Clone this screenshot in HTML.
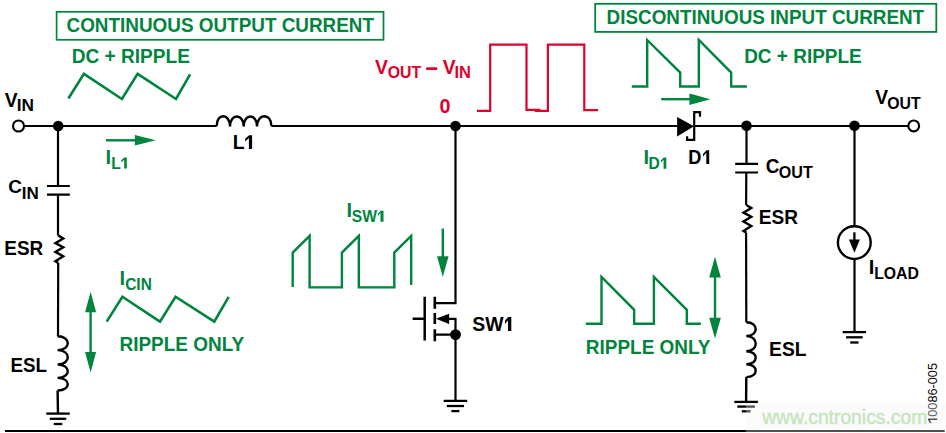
<!DOCTYPE html>
<html><head><meta charset="utf-8"><style>
html,body{margin:0;padding:0;background:#fff;}
svg{display:block;}
text{font-family:"Liberation Sans", sans-serif;}
</style></head><body>
<svg width="946" height="433" viewBox="0 0 946 433">
<rect width="946" height="433" fill="#fff"/>
<rect x="56.6" y="11.8" width="326.9" height="28" fill="none" stroke="#00843e" stroke-width="1.7"/>
<rect x="595.2" y="3.8" width="341.1" height="28.1" fill="none" stroke="#00843e" stroke-width="1.8"/>
<path d="M68.4,98.5 L83.9,73.8 L121.9,99 L137.6,73.8 L176,99 L190.1,74.3" stroke="#00843e" stroke-width="2.6" fill="none" stroke-linejoin="miter"/>
<path d="M106.7,321.6 L122.4,296.7 L160,321.6 L175.5,296.7 L214.3,321.6 L228.7,296.9" stroke="#00843e" stroke-width="2.6" fill="none"/>
<path d="M477,110.8 L490.2,110.8 L490.2,44.6 L526.5,44.6 L526.5,109.9 L540.4,109.9" stroke="#dd012c" stroke-width="2.2" fill="none"/>
<path d="M534.7,110.8 L547.9,110.8 L547.9,44.6 L584.3,44.6 L584.3,110.2 L598.1,110.2" stroke="#dd012c" stroke-width="2.2" fill="none"/>
<path d="M631.8,86.5 L647.2,86.5 L647.2,40 L680.2,72.6 L680.2,86.5 L698.8,86.5 L698.8,40 L731.2,72.6 L731.2,86.5 L746.9,86.5" stroke="#00843e" stroke-width="2.4" fill="none"/>
<path d="M292.7,286.9 L292.7,252.6 L309.6,235.8 L309.6,287.4 L341.9,287.4 L341.9,252.6 L358.8,235.8 L358.8,287.4 L394.3,287.4 L394.3,252.6 L411.2,235.8 L411.2,285.1" stroke="#00843e" stroke-width="2.4" fill="none"/>
<path d="M585.8,323.7 L601.5,323.7 L601.5,276.8 L634.2,309.8 L634.2,323.7 L653.9,323.7 L653.9,276.8 L686.8,309.8 L686.8,323.7 L700.9,323.7" stroke="#00843e" stroke-width="2.4" fill="none"/>
<path d="M106,140.3 L135.9,140.3" stroke="#00843e" stroke-width="2.4" fill="none"/>
<path d="M155.6,140.3 L134.9,135.0 L134.9,145.60000000000002 Z" fill="#00843e"/>
<path d="M661.2,99.2 L690.4,99.2" stroke="#00843e" stroke-width="2.4" fill="none"/>
<path d="M710.4,99.2 L689.4,93.4 L689.4,105.0 Z" fill="#00843e"/>
<path d="M442.8,228.5 L442.8,257.2" stroke="#00843e" stroke-width="2.4" fill="none"/>
<path d="M442.8,277 L437.05,256.2 L448.55,256.2 Z" fill="#00843e"/>
<path d="M90.6,311.3 L90.6,353.0" stroke="#00843e" stroke-width="2.4" fill="none"/>
<path d="M90.6,291.8 L85.1,312.3 L96.1,312.3 Z" fill="#00843e"/>
<path d="M90.6,372.5 L85.1,352.0 L96.1,352.0 Z" fill="#00843e"/>
<path d="M715,276.40000000000003 L715,318.79999999999995" stroke="#00843e" stroke-width="2.4" fill="none"/>
<path d="M715,256.8 L709.15,277.40000000000003 L720.85,277.40000000000003 Z" fill="#00843e"/>
<path d="M715,338.4 L709.15,317.79999999999995 L720.85,317.79999999999995 Z" fill="#00843e"/>
<path d="M23.6,126 L216.7,126" stroke="#000" stroke-width="2.2" fill="none"/>
<path d="M216.7,126 C216.70,112.67 230.00,113.17 230.00,126.5 C230.00,113.17 243.70,113.17 243.70,126.5 C243.70,113.17 257.00,113.17 257.00,126.5 C257.00,113.17 271.40,112.67 271.40,126" stroke="#000" stroke-width="2.4" fill="none"/>
<path d="M271.4,126 L680,126" stroke="#000" stroke-width="2.2" fill="none"/>
<path d="M694,126 L908.1,126" stroke="#000" stroke-width="2.2" fill="none"/>
<circle cx="18.5" cy="126" r="5.5" fill="#fff" stroke="#000" stroke-width="2.1"/>
<circle cx="913.7" cy="125.9" r="5.4" fill="#fff" stroke="#000" stroke-width="2.2"/>
<path d="M677.1,117 L677.1,136.4 L694,126.2 Z" fill="#000"/>
<path d="M700,116.8 L700,112.2 L694.2,112.2 L694.2,139.9 L687.1,139.9 L687.1,136.3" stroke="#000" stroke-width="2.2" fill="none"/>
<path d="M58,126 L58,186 M47,186 L69.8,186 M47,194.7 L69.8,194.7 M58,194.7 L58,235.4" stroke="#000" stroke-width="2.2" fill="none"/>
<path d="M58.20,235.40 L63.20,238.43 L55.40,243.10 L63.20,247.22 L55.40,251.90 L63.20,256.30 L55.40,261.25 L58.20,262.90" stroke="#000" stroke-width="2.4" fill="none" stroke-linejoin="miter"/>
<path d="M58.2,262.9 L58,336.3" stroke="#000" stroke-width="2.2" fill="none"/>
<path d="M57.6,336.3 C71.20,336.30 71.20,350.10 57.6,350.10 C71.20,350.10 71.20,364.50 57.6,364.50 C71.20,364.50 71.20,377.90 57.6,377.90 C71.20,377.90 71.20,390.50 57.6,390.50" stroke="#000" stroke-width="2.4" fill="none"/>
<path d="M57.6,390.5 L58,413.6" stroke="#000" stroke-width="2.4" fill="none"/>
<line x1="46.25" y1="413.60" x2="69.75" y2="413.60" stroke="#000" stroke-width="2.3"/>
<line x1="49.75" y1="418.80" x2="66.25" y2="418.80" stroke="#000" stroke-width="2.3"/>
<line x1="53.75" y1="424.00" x2="62.25" y2="424.00" stroke="#000" stroke-width="2.3"/>
<path d="M455.5,126 L455.5,303.2 L434.8,303.2" stroke="#000" stroke-width="2.2" fill="none"/>
<path d="M424.7,296.7 L424.7,340.6 M412.6,318.8 L424.7,318.8" stroke="#000" stroke-width="2.5" fill="none"/>
<path d="M434.8,296.7 L434.8,308.7 M434.8,312.9 L434.8,324 M434.8,329.2 L434.8,341.3" stroke="#000" stroke-width="2.6" fill="none"/>
<path d="M446,318.8 L455.5,318.8 L455.5,334.6 L434.8,334.6" stroke="#000" stroke-width="2.2" fill="none"/>
<path d="M435.8,318.8 L449.1,313.8 L449.1,324 Z" fill="#000"/>
<path d="M455.5,334.6 L455.5,400.9" stroke="#000" stroke-width="2.2" fill="none"/>
<line x1="443.65" y1="400.90" x2="467.15" y2="400.90" stroke="#000" stroke-width="2.3"/>
<line x1="446.80" y1="406.00" x2="464.00" y2="406.00" stroke="#000" stroke-width="2.3"/>
<line x1="451.40" y1="411.10" x2="459.40" y2="411.10" stroke="#000" stroke-width="2.3"/>
<path d="M746.5,126 L746.5,163.8 M735.2,163.8 L758.1,163.8 M735.2,172.5 L758.1,172.5 M746.3,172.5 L746.1,204.9" stroke="#000" stroke-width="2.2" fill="none"/>
<path d="M746.30,204.90 L751.30,207.95 L743.50,212.66 L751.30,216.81 L743.50,221.52 L751.30,225.95 L743.50,230.94 L746.30,232.60" stroke="#000" stroke-width="2.4" fill="none" stroke-linejoin="miter"/>
<path d="M746.1,232.6 L746.3,322.3" stroke="#000" stroke-width="2.2" fill="none"/>
<path d="M746.3,322.3 C758.83,322.30 758.83,336.00 746.3,336.00 C758.83,336.00 758.83,351.30 746.3,351.30 C758.83,351.30 758.83,364.20 746.3,364.20 C758.83,364.20 758.83,377.10 746.3,377.10" stroke="#000" stroke-width="2.4" fill="none"/>
<path d="M746.3,377.1 L746.1,401.9" stroke="#000" stroke-width="2.4" fill="none"/>
<line x1="734.30" y1="401.90" x2="757.90" y2="401.90" stroke="#000" stroke-width="2.3"/>
<line x1="737.30" y1="406.60" x2="754.90" y2="406.60" stroke="#000" stroke-width="2.3"/>
<line x1="741.80" y1="411.30" x2="750.40" y2="411.30" stroke="#000" stroke-width="2.3"/>
<path d="M854.5,126 L854.5,226.2 M854.5,259 L854.5,332.1" stroke="#000" stroke-width="2.2" fill="none"/>
<circle cx="854.3" cy="242.6" r="16.4" fill="none" stroke="#000" stroke-width="2.4"/>
<path d="M854.4,232.3 L854.4,240.4" stroke="#000" stroke-width="2.3" fill="none"/>
<path d="M854.4,252.8 L848.9,239.4 L859.9,239.4 Z" fill="#000"/>
<line x1="842.70" y1="332.10" x2="866.10" y2="332.10" stroke="#000" stroke-width="2.3"/>
<line x1="846.10" y1="337.30" x2="862.70" y2="337.30" stroke="#000" stroke-width="2.3"/>
<line x1="850.25" y1="342.50" x2="858.55" y2="342.50" stroke="#000" stroke-width="2.3"/>
<circle cx="58.2" cy="126" r="5.3" fill="#000"/>
<circle cx="455.5" cy="126" r="5.3" fill="#000"/>
<circle cx="746.5" cy="125.8" r="5.3" fill="#000"/>
<circle cx="854.5" cy="125.7" r="5.3" fill="#000"/>
<circle cx="455.5" cy="334.6" r="5.4" fill="#000"/>
<path d="M5,431 L944.7,431" stroke="#000" stroke-width="2" fill="none"/>
<text x="66.54" y="31.60" font-size="20" font-weight="bold" fill="#00843e" textLength="307.49" lengthAdjust="spacingAndGlyphs">CONTINUOUS OUTPUT CURRENT</text>
<text x="71.66" y="62.60" font-size="20" font-weight="bold" fill="#00843e" textLength="118.33" lengthAdjust="spacingAndGlyphs">DC + RIPPLE</text>
<text x="606.57" y="23.80" font-size="19.3" font-weight="bold" fill="#00843e" textLength="317.59" lengthAdjust="spacingAndGlyphs">DISCONTINUOUS INPUT CURRENT</text>
<text x="744.17" y="62.60" font-size="20" font-weight="bold" fill="#00843e" textLength="117.62" lengthAdjust="spacingAndGlyphs">DC + RIPPLE</text>
<text x="4.70" y="106.90" font-size="20" font-weight="bold" fill="#000" textLength="12.83" lengthAdjust="spacingAndGlyphs">V</text>
<text x="16.78" y="110.60" font-size="16" font-weight="bold" fill="#000" textLength="17.24" lengthAdjust="spacingAndGlyphs">IN</text>
<text x="875.20" y="104.20" font-size="20" font-weight="bold" fill="#000" textLength="12.83" lengthAdjust="spacingAndGlyphs">V</text>
<text x="887.17" y="109.10" font-size="16" font-weight="bold" fill="#000" textLength="33.40" lengthAdjust="spacingAndGlyphs">OUT</text>
<text x="375.10" y="73.70" font-size="20" font-weight="bold" fill="#dd012c" textLength="12.93" lengthAdjust="spacingAndGlyphs">V</text>
<text x="387.67" y="77.90" font-size="15.6" font-weight="bold" fill="#dd012c" textLength="33.40" lengthAdjust="spacingAndGlyphs">OUT</text>
<rect x="426.2" y="67.3" width="11" height="2.7" fill="#dd012c"/>
<text x="442.70" y="73.70" font-size="20" font-weight="bold" fill="#dd012c" textLength="12.83" lengthAdjust="spacingAndGlyphs">V</text>
<text x="454.43" y="77.80" font-size="16" font-weight="bold" fill="#dd012c" textLength="16.44" lengthAdjust="spacingAndGlyphs">IN</text>
<text x="439.61" y="113.00" font-size="20" font-weight="bold" fill="#dd012c" textLength="11.01" lengthAdjust="spacingAndGlyphs">0</text>
<text x="232.64" y="148.90" font-size="20" font-weight="bold" fill="#000" textLength="11.86" lengthAdjust="spacingAndGlyphs">L</text>
<path d="M252.1,148.9 L252.1,135.2 L249.10,135.2 L245.2,138.7 L245.2,141.5 L248.9,138.00 L248.9,148.9 Z" fill="#000"/>
<text x="105.60" y="163.70" font-size="20" font-weight="bold" fill="#00843e">I</text>
<text x="111.19" y="168.60" font-size="16" font-weight="bold" fill="#00843e" textLength="9.49" lengthAdjust="spacingAndGlyphs">L</text>
<path d="M126.8,168.6 L126.8,157.5 L124.40,157.5 L121.4,160.1 L121.4,162.4 L124.2,159.80 L124.2,168.6 Z" fill="#00843e"/>
<text x="8.24" y="193.30" font-size="19" font-weight="bold" fill="#000" textLength="13.67" lengthAdjust="spacingAndGlyphs">C</text>
<text x="21.69" y="198.50" font-size="16" font-weight="bold" fill="#000" textLength="17.01" lengthAdjust="spacingAndGlyphs">IN</text>
<text x="4.27" y="254.70" font-size="20" font-weight="bold" fill="#000" textLength="38.93" lengthAdjust="spacingAndGlyphs">ESR</text>
<text x="10.48" y="371.60" font-size="20" font-weight="bold" fill="#000" textLength="36.48" lengthAdjust="spacingAndGlyphs">ESL</text>
<text x="119.40" y="285.00" font-size="20" font-weight="bold" fill="#00843e">I</text>
<text x="125.18" y="290.10" font-size="16" font-weight="bold" fill="#00843e" textLength="26.66" lengthAdjust="spacingAndGlyphs">CIN</text>
<text x="119.47" y="350.50" font-size="20" font-weight="bold" fill="#00843e" textLength="124.73" lengthAdjust="spacingAndGlyphs">RIPPLE ONLY</text>
<text x="346.50" y="216.90" font-size="20" font-weight="bold" fill="#00843e">I</text>
<text x="351.73" y="221.90" font-size="16.3" font-weight="bold" fill="#00843e" textLength="25.18" lengthAdjust="spacingAndGlyphs">SW</text>
<path d="M383.5,221.7 L383.5,210.7 L380.70,210.7 L377.8,214.1 L377.8,216.2 L380.5,212.80 L380.5,221.7 Z" fill="#00843e"/>
<text x="472.32" y="330.90" font-size="20" font-weight="bold" fill="#000" textLength="31.20" lengthAdjust="spacingAndGlyphs">SW</text>
<path d="M511.3,330.9 L511.3,317 L508.20,317 L505,320.6 L505,323.9 L508,320.30 L508,330.9 Z" fill="#000"/>
<text x="643.60" y="163.70" font-size="20" font-weight="bold" fill="#00843e">I</text>
<text x="648.59" y="168.70" font-size="16" font-weight="bold" fill="#00843e" textLength="11.27" lengthAdjust="spacingAndGlyphs">D</text>
<path d="M666.3,168.7 L666.3,157.6 L663.80,157.6 L661,160.2 L661,162.4 L663.6,159.80 L663.6,168.7 Z" fill="#00843e"/>
<text x="688.32" y="163.90" font-size="20" font-weight="bold" fill="#000" textLength="13.15" lengthAdjust="spacingAndGlyphs">D</text>
<path d="M709.2,163.9 L709.2,150.3 L706.50,150.3 L703,154 L703,156.5 L706.3,152.80 L706.3,163.9 Z" fill="#000"/>
<text x="765.84" y="172.80" font-size="19.5" font-weight="bold" fill="#000" textLength="13.67" lengthAdjust="spacingAndGlyphs">C</text>
<text x="778.86" y="178.10" font-size="16" font-weight="bold" fill="#000" textLength="33.92" lengthAdjust="spacingAndGlyphs">OUT</text>
<text x="758.86" y="223.60" font-size="20" font-weight="bold" fill="#000" textLength="39.25" lengthAdjust="spacingAndGlyphs">ESR</text>
<text x="769.05" y="356.30" font-size="20" font-weight="bold" fill="#000" textLength="37.43" lengthAdjust="spacingAndGlyphs">ESL</text>
<text x="868.80" y="273.60" font-size="20" font-weight="bold" fill="#000">I</text>
<text x="874.17" y="278.70" font-size="16" font-weight="bold" fill="#000" textLength="44.70" lengthAdjust="spacingAndGlyphs">LOAD</text>
<text x="585.87" y="354.40" font-size="20" font-weight="bold" fill="#00843e" textLength="124.63" lengthAdjust="spacingAndGlyphs">RIPPLE ONLY</text>
<g transform="translate(937.3,423.8) rotate(-90)"><path d="M5.2,0 L5.2,-9.3 L3.8,-9.3 L0.9,-7.2 L0.9,-5.6 L3.7,-7.5 L3.7,0 Z" fill="#000"/><text x="7.07" y="0" font-size="13" fill="#000" textLength="53.73" lengthAdjust="spacingAndGlyphs">0086-005</text></g>
<rect x="746" y="403.2" width="200" height="30" fill="#f2f2f2" fill-opacity="0.33"/>
<text x="762.2" y="423.7" font-size="19.3" fill="#c5e5bf" stroke="#c5e5bf" stroke-width="0.45" font-family="Liberation Sans, sans-serif">www.cntronics.com</text>
</svg>
</body></html>
